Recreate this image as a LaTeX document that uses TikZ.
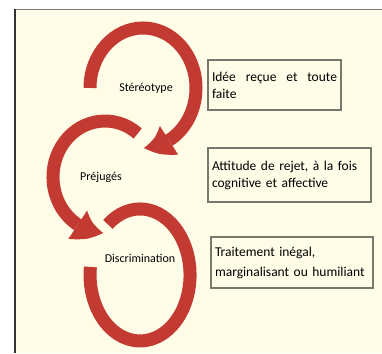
\documentclass[tikz,border=0pt]{standalone}
\usepackage{fontspec}
\setmainfont{Carlito}
\usetikzlibrary{arrows.meta,bending}
\definecolor{cream}{RGB}{255,253,232}
\definecolor{arcred}{RGB}{194,58,50}
\definecolor{framegray}{RGB}{125,125,115}
\definecolor{boxgray}{RGB}{120,120,110}
\begin{document}
\begin{tikzpicture}[x=1pt,y=1pt,
    loop arc/.style={draw=arcred,line width=13pt},
    loop tip/.style={-{Triangle[width=34pt,length=27pt,line width=0pt,bend]}},
    label node/.style={font=\fontsize{12}{14}\selectfont},
    text box/.style={draw=boxgray,line width=1.3pt,fill=cream,align=left,
                     inner xsep=4pt,font=\fontsize{13.5}{17}\selectfont}
  ]
  \useasboundingbox (0,0) rectangle (382,353);
  \fill[cream] (15,0) rectangle (382,343.5);
  \draw[framegray,line width=1.5pt] (15,343.5) -- (382,343.5);
  \draw[black!80,line width=1.5pt] (15,0) -- (15,344.2);

  % the three loops
  \coordinate (s1) at (90,265);
  \coordinate (s2) at (137.7,219.5);
  \coordinate (s3) at (107.9,128.6);
  \draw[loop arc,loop tip] (s1) arc[start angle=180,end angle=-89,x radius=53,y radius=60];
  \draw[loop arc,loop tip] (s2) arc[start angle=51,end angle=268,x radius=52,y radius=56];
  \draw[loop arc] (s3) arc[start angle=130,end angle=-187,x radius=50,y radius=66];

  \node[label node] (S) at (146,265) {Stéréotype};
  \node[label node] (P) at (101,176) {Préjugés};
  \node[label node] (D) at (140,95) {Discrimination};

  % the boxes on the right
  \node[text box,text width=125pt,minimum height=50] (A) at (274.5,268)
       {\makebox[125pt][s]{Idée\hfill reçue\hfill et\hfill toute}\\faite};
  \node[text box,text width=155pt,minimum height=54] (B) at (289.5,178)
       {Attitude de rejet, à la fois\\cognitive et affective};
  \node[text box,text width=154pt,minimum height=51] (C) at (292,90.5)
       {Traitement inégal,\\[3pt]marginalisant ou humiliant};
\end{tikzpicture}
\end{document}
